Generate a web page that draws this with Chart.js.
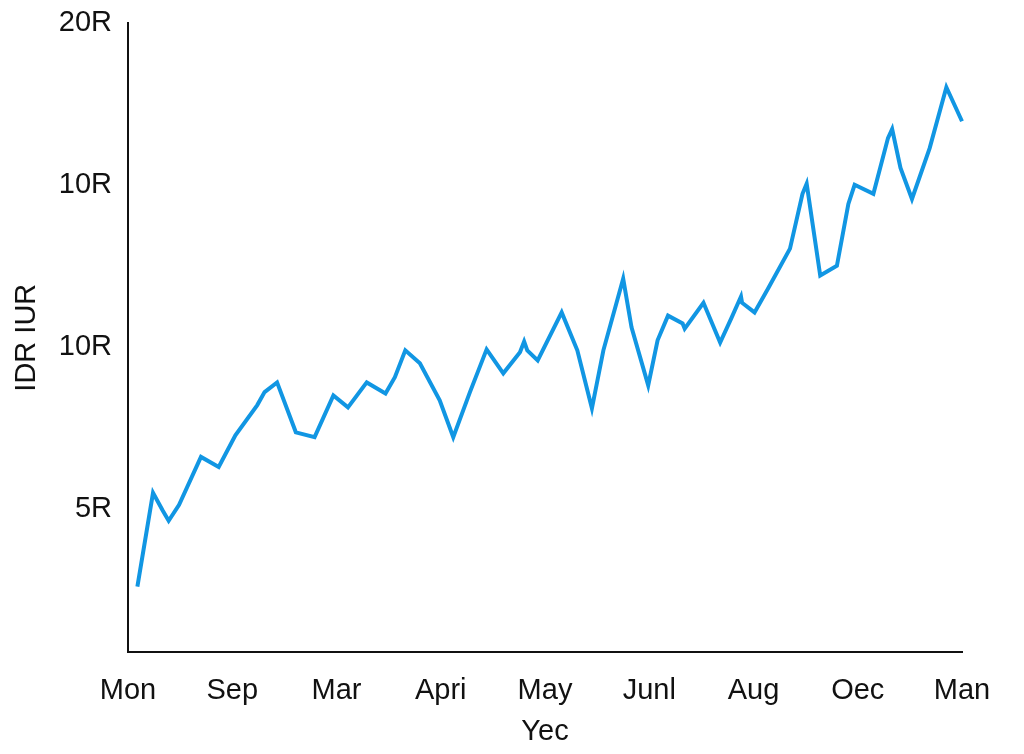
<!DOCTYPE html>
<html>
<head>
<meta charset="utf-8">
<script src="https://cdn.jsdelivr.net/npm/chart.js@4.4.0/dist/chart.umd.min.js"></script>
<style>
html,body{margin:0;padding:0;background:#fff;overflow:hidden;}
#wrap{width:1024px;height:754px;position:relative;overflow:hidden;}
#c{position:absolute;left:0;top:-10px;}
</style>
</head>
<body>
<div id="wrap"><canvas id="c" width="1024" height="764"></canvas></div>
<script>
const xTickLabels = ['Mon','Sep','Mar','Apri','May','Junl','Aug','Oec','Man'];
const yTickValues = [5,10,15,20];
const yTickLabels = ['5R','10R','10R','20R'];
const xTitle = 'Yec';
const yTitle = 'IDR IUR';

const xValues = [0.09,0.24,0.33,0.39,0.49,0.70,0.87,1.03,1.24,1.31,1.43,1.61,1.79,1.97,2.11,2.29,2.47,2.56,2.66,2.80,2.99,3.12,3.28,3.44,3.60,3.76,3.80,3.83,3.93,4.16,4.31,4.45,4.56,4.75,4.83,4.99,5.08,5.18,5.32,5.34,5.52,5.68,5.79,5.88,5.89,6.01,6.14,6.35,6.47,6.51,6.64,6.80,6.91,6.97,7.15,7.29,7.33,7.41,7.52,7.69,7.85,8.00];
const yValues = [2.62,5.51,4.98,4.65,5.14,6.62,6.31,7.29,8.22,8.62,8.92,7.38,7.23,8.52,8.15,8.92,8.58,9.08,9.91,9.51,8.37,7.23,8.62,9.94,9.20,9.85,10.18,9.91,9.60,11.08,9.91,8.12,9.91,12.12,10.62,8.83,10.22,10.98,10.74,10.58,11.38,10.15,10.92,11.57,11.38,11.08,11.82,13.05,14.74,15.05,12.22,12.52,14.43,15.02,14.74,16.46,16.74,15.54,14.58,16.15,18.03,16.98];

const points = xValues.map((x,i)=>({x:x, y:yValues[i]}));
const FONT = '"Liberation Sans", Arial, sans-serif';

new Chart(document.getElementById('c'), {
  type: 'line',
  data: { datasets: [{
    data: points,
    borderColor: '#1196e3',
    borderWidth: 4,
    pointRadius: 0,
    tension: 0,
    fill: false,
    clip: false
  }]},
  options: {
    responsive: false,
    animation: false,
    devicePixelRatio: 1,
    layout: { padding: { top: 12, right: 62, left: 0, bottom: 0 } },
    plugins: { legend: { display: false }, tooltip: { enabled: false } },
    scales: {
      x: {
        type: 'linear', min: 0, max: 8,
        grid: { display: false, drawTicks: false },
        border: { display: true, color: '#111', width: 2 },
        ticks: {
          stepSize: 1, padding: 22, maxRotation: 0, autoSkip: false,
          color: '#111', font: { family: FONT, size: 29 },
          callback: (v) => xTickLabels[Math.round(v)] ?? ''
        },
        title: { display: true, text: xTitle, color: '#111', font: { family: FONT, size: 29 }, padding: { top: 0, bottom: 5 } },
        afterFit: (s) => { s.height = 102; }
      },
      y: {
        type: 'linear', min: 0.6, max: 20,
        grid: { display: false, drawTicks: false },
        border: { display: true, color: '#111', width: 2 },
        afterBuildTicks: (s) => { s.ticks = yTickValues.map(v => ({ value: v })); },
        ticks: {
          padding: 16, color: '#111', font: { family: FONT, size: 29 },
          callback: (v) => { const i = yTickValues.indexOf(v); return i >= 0 ? yTickLabels[i] : ''; }
        },
        title: { display: true, text: yTitle, color: '#111', font: { family: FONT, size: 29 }, padding: { top: 10, bottom: 0 } },
        afterFit: (s) => { s.width = 128; }
      }
    }
  }
});
</script>
</body>
</html>
